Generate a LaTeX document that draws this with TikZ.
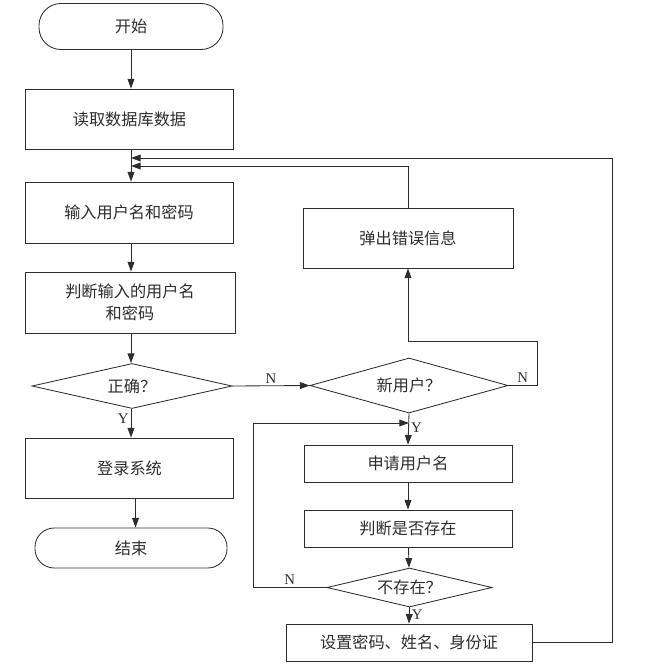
\documentclass[tikz,border=0pt]{standalone}
\usepackage{fontspec}
\setmainfont{Liberation Serif}
\newfontfamily\cjk{Noto Sans CJK SC}
\usepackage{tikz}
\usetikzlibrary{shapes,arrows.meta,positioning,calc,shapes.geometric}
\definecolor{lineg}{RGB}{45,45,45}

\begin{document}
\begin{tikzpicture}[x=0.025cm, y=-0.025cm,
  box/.style={draw=lineg, line width=0.6pt, minimum width=5.2cm, minimum height=1.5cm, inner sep=1pt, align=center, text=lineg, font=\cjk\fontsize{11.5}{16}\selectfont},
  term/.style={box, rounded corners=0.55cm, minimum width=4.6cm, minimum height=1.15cm},
  cond/.style={diamond, aspect=4.2, draw=lineg, line width=0.6pt, inner sep=0pt, text=lineg, font=\cjk\fontsize{11.5}{16}\selectfont},
  lbl/.style={font=\fontsize{10.5}{12}\selectfont, text=lineg, inner sep=1.5pt},
  ln/.style={draw=lineg, line width=0.6pt},
  arr/.style={ln, -{Triangle[length=2.4mm,width=1.7mm]}}
]
\useasboundingbox (0,0) rectangle (648,666);

% left column
\node[term] (start) at (131,26.5) {开始};
\node[box] (read) at (129.5,119) {读取数据库数据};
\node[box, minimum height=1.525cm] (input) at (129,212.5) {输入用户名和密码};
\node[box, minimum width=5.25cm, minimum height=1.525cm] (judge) at (130,302.5) {判断输入的用户名\\和密码};
\node[cond, minimum width=5cm, minimum height=1.125cm] (ok) at (132,386) {正确？};
\node[box] (login) at (129.5,468) {登录系统};
\node[term, minimum width=4.8cm, minimum height=1cm, rounded corners=0.48cm] (stop) at (131,548) {结束};

% right column
\node[box, minimum width=5.25cm] (error) at (408,238) {弹出错误信息};
\node[cond, aspect=3.6, minimum width=4.95cm, minimum height=1.375cm] (newuser) at (409,385.5) {新用户？};
\node[box, minimum height=0.925cm] (apply) at (408,463.5) {申请用户名};
\node[box, minimum height=0.925cm] (check) at (408,528.5) {判断是否存在};
\node[cond, minimum width=4.125cm, minimum height=0.975cm] (notexist) at (409.5,587.5) {不存在？};
\node[box, minimum width=6.15cm, minimum height=0.925cm] (setup) at (409,642.5) {设置密码、姓名、身份证};

% join points
\coordinate (m1) at (131,158);
\coordinate (m2) at (131,166);
\coordinate (r1) at (612,158);
\coordinate (n1) at (537,341);
\coordinate (l1) at (253,423);
\coordinate (j1) at (409,423);

% main flow
\draw[arr] (start.south -| 131,0) -- (read.north -| 131,0);
\draw[arr] (read.south -| 131,0) -- (input.north -| 131,0);
\draw[arr] (input.south -| 131,0) -- (judge.north -| 131,0);
\draw[arr] (judge.south -| 131,0) -- (ok.north -| 131,0);
\draw[arr] (ok.south -| 131,0) -- node[lbl, left, pos=0.35] {Y} (login.north -| 131,0);
\draw[arr] ([xshift=0.15cm]login.south) -- ([xshift=0.15cm]login.south |- stop.north);
\draw[arr] (ok.east) -- node[lbl, above] {N} (newuser.west);

% new user branch
\draw[arr] (newuser.east) -| node[lbl, above, pos=0.25] {N} (n1) -| (error.south);
\draw[arr] (error.north) |- (m2);
\draw[arr] (newuser.south) -- node[lbl, right, pos=0.45] {Y} (apply.north);
\draw[arr] (apply) -- (check);
\draw[arr] (check) -- (notexist);
\draw[arr] (notexist.south) -- node[lbl, right, pos=0.45] {Y} (setup.north);
\draw[arr] (notexist.west) -| node[lbl, above, pos=0.25] {N} (l1) -- (j1);
\draw[arr] (setup.east) -| (r1) -- (m1);
\end{tikzpicture}
\end{document}
